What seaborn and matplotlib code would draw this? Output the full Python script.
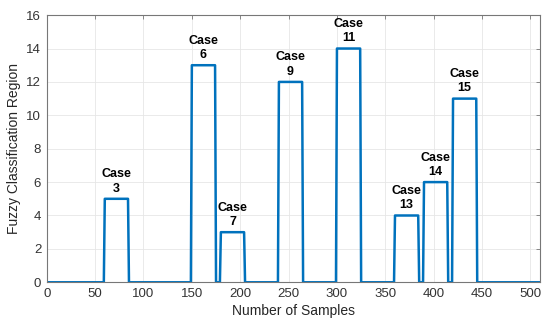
import numpy as np
import pandas as pd
import seaborn as sns
import matplotlib
matplotlib.use('Agg')
import matplotlib.pyplot as plt

# pulses: case number, first / last sample, region level
case_ids = [3, 6, 7, 9, 11, 13, 14, 15]
pulse_start = [60, 150, 180, 240, 300, 360, 390, 420]
pulse_end = [85, 175, 205, 265, 325, 385, 415, 445]
pulse_level = [5, 13, 3, 12, 14, 4, 6, 11]
n_samples = 510

# vertices of the signal (one-sample ramps, as drawn sample by sample)
xs = [0]
ys = [0]
for s, e, v in zip(pulse_start, pulse_end, pulse_level):
    xs += [s - 1, s, e - 1, e]
    ys += [0, v, v, 0]
xs.append(n_samples)
ys.append(0)
df = pd.DataFrame({'sample': xs, 'region': ys})

sns.set_style('whitegrid')
plt.rcParams['font.family'] = ['Liberation Sans', 'DejaVu Sans']

fig = plt.figure(figsize=(5.5, 3.29), dpi=100)
ax = fig.add_axes([0.085, 0.142, 0.897, 0.812])

sns.lineplot(data=df, x='sample', y='region', estimator=None, sort=False,
             color='#0072BD', linewidth=1.8, ax=ax)

#labels above each pulse
for c, s, e, v in zip(case_ids, pulse_start, pulse_end, pulse_level):
    ax.text((s + e) / 2 - 0.5, v + 0.25, 'Case\n%d' % c, ha='center', va='bottom',
            fontsize=9, fontweight='bold', color='black', linespacing=1.25)

ax.set_xlim(0, n_samples)
ax.set_ylim(0, 16)
ax.set_xticks(np.arange(0, 501, 50))
ax.set_yticks(np.arange(0, 17, 2))
ax.set_xlabel('Number of Samples', fontsize=10, color='#262626', labelpad=3)
ax.set_ylabel('Fuzzy Classification Region', fontsize=10, color='#262626', labelpad=4)

ax.grid(True, color='#e6e6e6', linewidth=0.6)
for sp in ax.spines.values():
    sp.set_visible(True)
    sp.set_color('#777777')
    sp.set_linewidth(0.8)
ax.tick_params(axis='both', direction='in', length=3, width=0.6, color='#777777',
               labelsize=9.5, labelcolor='#333333', top=True, right=True, pad=4)

fig.savefig('out.png', dpi=100)
